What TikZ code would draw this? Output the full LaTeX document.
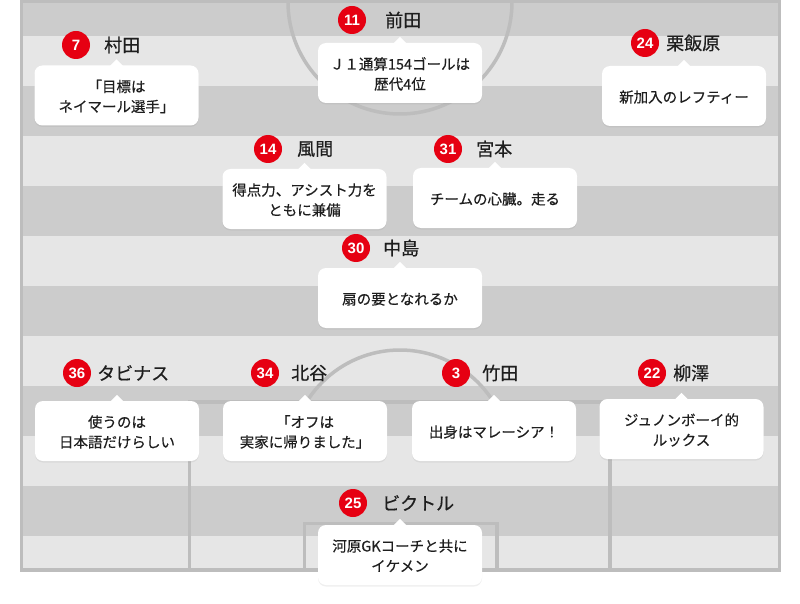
\documentclass[tikz,border=0pt]{standalone}
\usepackage{fontspec}
\usetikzlibrary{shadows}
\newfontfamily\jp[FakeBold=0.35]{Noto Sans CJK JP}
\newfontfamily\jpn[FakeBold=0.6]{Noto Sans CJK JP}
\newfontfamily\numf{Liberation Sans}
\definecolor{stripeL}{HTML}{E6E6E6}
\definecolor{stripeD}{HTML}{CCCCCC}
\definecolor{fline}{HTML}{BDBDBD}
\definecolor{badgered}{HTML}{E60012}
\definecolor{txt}{HTML}{1E1E1E}
\tikzset{
  fieldline/.style={draw=fline, line width=3.5pt},
  bubble/.style={fill=white, rounded corners=8pt, minimum width=164pt, minimum height=60pt,
     inner sep=0pt, text=txt, font=\jp\fontsize{14.5}{20}\selectfont,
     drop shadow={shadow xshift=0pt, shadow yshift=-1.5pt, opacity=0.12}},
  badge/.style={circle, fill=badgered, minimum size=28pt, inner sep=0pt, text=white,
     font=\numf\bfseries\fontsize{15}{15}\selectfont},
  pname/.style={anchor=west, inner sep=0pt, text=txt, font=\jpn\fontsize{18}{18}\selectfont}
}
% #1 id, #2 #3 bubble centre, #4 #5 badge centre, #6 name left x, #7 number, #8 name, #9 text
\newcommand\plyr[9]{%
  \node[bubble] (#1b) at (#2,#3) {\raisebox{-2.5pt}[\height][\depth]{\begin{tabular}{@{}c@{}}#9\end{tabular}}};
  \fill[white] ([xshift=-6.5pt,yshift=-0.5pt]#1b.north) -- ([yshift=6pt]#1b.north) -- ([xshift=6.5pt,yshift=-0.5pt]#1b.north) -- cycle;
  \node[badge] (#1n) at (#4,#5) {#7};
  \node[pname] (#1m) at (#6,#5) {#8};
}
\begin{document}
\begin{tikzpicture}[x=1pt,y=-1pt]
\useasboundingbox (0,0) rectangle (800,604);
\fill[white] (0,0) rectangle (800,604);
% pitch stripes
\fill[stripeL] (20,0) rectangle (781,572);
\fill[stripeD] (20,0) rectangle (781,36);
\foreach \yy in {86,186,286,386,486} \fill[stripeD] (20,\yy) rectangle (781,\yy+50);
% pitch lines
\begin{scope}
  \clip (20,0) rectangle (781,572);
  \draw[fieldline] (400,2) circle (112);
\end{scope}
\begin{scope}
  \clip (0,0) rectangle (800,402);
  \draw[fieldline] (400,460) circle (110);
\end{scope}
\draw[fieldline] (189.5,570) -- (189.5,402) -- (610,402) -- (610,570);
\draw[fieldline] (304.5,570) -- (304.5,523.5) -- (497,523.5) -- (497,570);
\draw[fieldline] (21.5,1.5) rectangle (779.5,570);
% players
\plyr{mu}{116.5}{95.5}{76}{45}{104}{7}{村田}{「目標は\\ネイマール選手」}
\plyr{ma}{400}{73}{352}{20}{385}{11}{前田}{Ｊ１通算154ゴールは\\歴代4位}
\plyr{ai}{684}{96}{645}{43}{666}{24}{栗飯原}{新加入のレフティー}
\plyr{ka}{304.5}{199}{268}{149}{297}{14}{風間}{得点力、アシスト力を\\ともに兼備}
\plyr{mi}{495}{198}{448}{149}{476}{31}{宮本}{チームの心臓。走る}
\plyr{na}{400}{298}{356}{248}{383}{30}{中島}{扇の要となれるか}
\plyr{ta}{117}{431}{77}{373}{97}{36}{タビナス}{使うのは\\日本語だけらしい}
\plyr{ki}{305}{431}{265}{373}{291}{34}{北谷}{「オフは\\実家に帰りました」}
\plyr{tk}{494}{431}{456}{373}{482}{3}{竹田}{出身はマレーシア！}
\plyr{ya}{681.5}{429}{652}{373}{673}{22}{柳澤}{ジュノンボーイ的\\ルックス}
\plyr{vi}{400}{555}{353}{503}{382}{25}{ビクトル}{河原GKコーチと共に\\イケメン}
\end{tikzpicture}
\end{document}
